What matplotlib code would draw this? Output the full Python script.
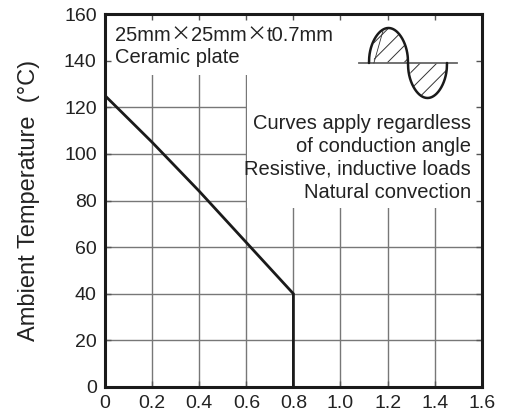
import numpy as np
import matplotlib.pyplot as plt
from matplotlib.patches import Rectangle

plt.rcParams['font.family'] = ['Liberation Sans', 'DejaVu Sans']
plt.rcParams['hatch.linewidth'] = 0.7

# derating curve: current (x) vs ambient temperature (y)
curve_x = [0.0, 0.2, 0.4, 0.6, 0.8, 0.8]
curve_y = [125, 105, 84, 62, 40, 0]

x_ticks = [0, 0.2, 0.4, 0.6, 0.8, 1.0, 1.2, 1.4, 1.6]
x_labels = ['0', '0.2', '0.4', '0.6', '0.8', '1.0', '1.2', '1.4', '1.6']
y_ticks = [0, 20, 40, 60, 80, 100, 120, 140, 160]

size_parts = ['25mm', '\u00d7', '25mm', '\u00d7', 't0.7mm']
note_left2 = 'Ceramic plate'
note_right = ('Curves apply regardless\nof conduction angle\n'
              'Resistive, inductive loads\nNatural convection')
y_title = 'Ambient Temperature  (\u00b0C)'

TXT = '#222222'
FS = 14.5

fig = plt.figure(figsize=(5.05, 4.19), dpi=100)
ax = fig.add_axes([0.208, 0.0764, 0.746, 0.890])

# grid drawn by hand so the white note areas can cover it
for xv in x_ticks[1:-1]:
    ax.axvline(xv, color='#777777', lw=1.0, zorder=1)
for yv in y_ticks[1:-1]:
    ax.axhline(yv, color='#777777', lw=1.0, zorder=1)

# white areas behind the notes
ax.add_patch(Rectangle((0, 134), 1.6, 26, facecolor='white', edgecolor='none', zorder=1.5))
ax.add_patch(Rectangle((0.605, 77), 1.0, 57, facecolor='white', edgecolor='none', zorder=1.5))

ax.plot(curve_x, curve_y, color='#1a1a1a', lw=2.0, zorder=3, solid_joinstyle='miter')

# first note line, with a wide multiplication sign
prev = ax.text(0.042, 148.5, size_parts[0], ha='left', va='baseline',
               fontsize=FS, color=TXT, zorder=4)
for part in size_parts[1:]:
    fam = ['Noto Sans CJK JP'] if part == '\u00d7' else ['Liberation Sans']
    prev = ax.annotate(part, xy=(1, 0), xycoords=prev, ha='left', va='bottom',
                       fontsize=FS, color=TXT, family=fam, zorder=4,
                       annotation_clip=False)
ax.text(0.042, 138.8, note_left2, ha='left', va='baseline', fontsize=FS,
        color=TXT, zorder=4)
ax.text(1.553, 117.3, note_right, ha='right', va='top', fontsize=FS,
        color=TXT, linespacing=1.27, multialignment='right', zorder=4)

ax.set_xlim(0, 1.6)
ax.set_ylim(0, 160)
ax.set_xticks(x_ticks)
ax.set_xticklabels(x_labels)
ax.set_yticks(y_ticks)
ax.tick_params(direction='in', length=4, width=1, color='#555555',
               top=True, right=True, labelsize=14, labelcolor=TXT, pad=6)
for s in ax.spines.values():
    s.set_linewidth(2.2)
    s.set_color('#1a1a1a')
ax.set_ylabel(y_title, fontsize=17, color=TXT, labelpad=17)

# waveform icon
ins = fig.add_axes([355 / 505, (419 - 112) / 419, 107 / 505, 92 / 419])
ins.set_xlim(355, 462)
ins.set_ylim(112, 20)
ins.axis('off')
ins.plot([359, 457], [63, 63], color='#666666', lw=1.3)
t = np.linspace(0, 1, 200)
shape = np.abs(np.sin(np.pi * t)) ** 0.45
pos_x = 369 + t * 39
neg_x = 408 + t * 39
ins.fill_between(pos_x[25:], 63, 63 - 35 * shape[25:], facecolor='white',
                 edgecolor='#333333', hatch='//', lw=0)
ins.fill_between(neg_x[12:], 63, 63 + 35 * shape[12:], facecolor='white',
                 edgecolor='#333333', hatch='//', lw=0)
ins.plot([pos_x[25], pos_x[25] + 9], [63, 63 - 35 * shape[60]], color='#333333', lw=0.6)
ins.plot(np.r_[pos_x, neg_x], np.r_[63 - 35 * shape, 63 + 35 * shape],
         color='#1a1a1a', lw=1.8, solid_capstyle='round')

fig.savefig('out.png', dpi=100)
